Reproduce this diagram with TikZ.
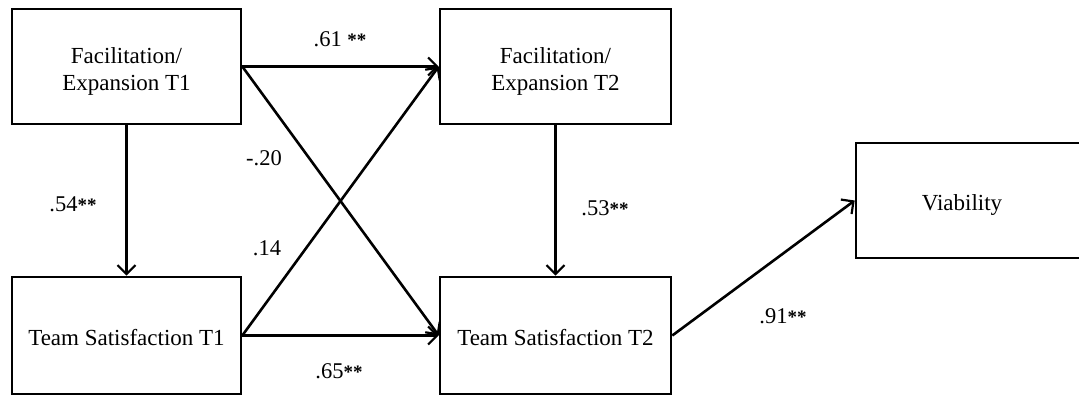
\documentclass[tikz,border=0pt]{standalone}
\usepackage{fontspec}
\setmainfont{Liberation Serif}
\usetikzlibrary{arrows.meta}
\newcommand{\sig}{{\fontsize{19}{19}\selectfont\bfseries **}}
\newcommand{\lowtext}[1]{\raisebox{-5pt}[\height][\depth]{\begin{tabular}{@{}c@{}}#1\end{tabular}}}
\tikzset{
  box/.style={draw, line width=2.6pt, fill=white, align=center, inner sep=0pt,
    font=\fontsize{23}{27}\selectfont},
  conn/.style={line width=2.6pt, -{Straight Barb[length=9pt,width=18pt,line width=2.2pt]}},
  coef/.style={inner sep=0pt, text height=16pt, text depth=0pt, font=\fontsize{22.5}{27}\selectfont}
}
\begin{document}
\begin{tikzpicture}[x=1pt,y=-1pt]
\useasboundingbox (0,0) rectangle (1079,399);
\node[box, minimum width=229pt, minimum height=115pt] (f1) at (126.5,66.5) {\lowtext{Facilitation/\\Expansion T1}};
\node[box, minimum width=231pt, minimum height=115pt] (f2) at (555.5,66.5) {\lowtext{Facilitation/\\Expansion T2}};
\node[box, minimum width=229pt, minimum height=117pt] (s1) at (126.5,335.5) {\lowtext{Team Satisfaction T1}};
\node[box, minimum width=231pt, minimum height=117pt] (s2) at (555.5,335.5) {\lowtext{Team Satisfaction T2}};
\node[box, minimum width=232pt, minimum height=115pt] (via) at (972,200.5) {};
\node[inner sep=0pt, font=\fontsize{23}{27}\selectfont] (viat) at (962,205) {Viability};

\draw[conn] (f1.east) -- (f2.west);
\draw[conn] (f1.east) -- (s2.west);
\draw[conn] (s1.east) -- (f2.west);
\draw[conn] (s1.east) -- (s2.west);
\draw[conn] (f1.south) -- (s1.north);
\draw[conn] (f2.south) -- (s2.north);
\draw[conn] (s2.east) -- (via.west);

\node[coef] (c61) at (340,38) {.61 \sig};
\node[coef] (c20) at (264,157) {-.20};
\node[coef] (c14) at (267,247) {.14};
\node[coef] (c65) at (339,370) {.65\sig};
\node[coef] (c54) at (73,203) {.54\sig};
\node[coef] (c53) at (605,207) {.53\sig};
\node[coef] (c91) at (783,315) {.91\sig};
\end{tikzpicture}
\end{document}
